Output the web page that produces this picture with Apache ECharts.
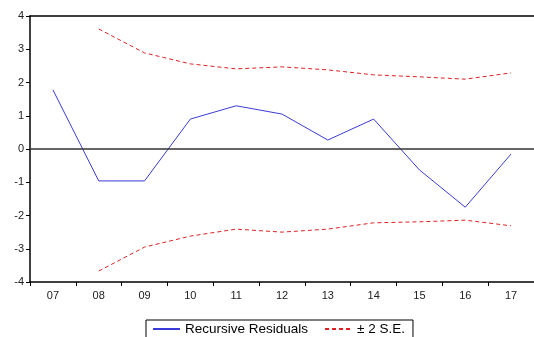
<!DOCTYPE html>
<html><head><meta charset="utf-8">
<script src="https://cdn.jsdelivr.net/npm/echarts@6/dist/echarts.min.js"></script>
<style>html,body{margin:0;padding:0;background:#fff}#c{width:534px;height:337px}</style>
</head><body><div id="c"></div>
<script>
var categories = ['07','08','09','10','11','12','13','14','15','16','17'];
var residuals = [1.78, -0.96, -0.96, 0.90, 1.30, 1.05, 0.27, 0.90, -0.63, -1.75, -0.15];
var upperSE = [null, 3.61, 2.89, 2.56, 2.41, 2.47, 2.38, 2.23, 2.17, 2.10, 2.29];
var lowerSE = [null, -3.67, -2.95, -2.62, -2.41, -2.50, -2.41, -2.22, -2.19, -2.14, -2.31];
var yTicks = [-4, 4, 1];

var chart = echarts.init(document.getElementById('c'));
var font = 'Liberation Sans, Arial, sans-serif';
chart.setOption({
  animation: false,
  grid: {left: 30, right: 0, top: 16, bottom: 55},
  legend: {
    left: 146, top: 320, padding: [2, 8, 6, 6],
    borderColor: '#000', borderWidth: 1, itemGap: 16,
    itemWidth: 27, itemHeight: 10,
    itemStyle: {opacity: 0},
    textStyle: {fontFamily: font, fontSize: 13.5, color: '#000'},
    data: [{name: 'Recursive Residuals'}, {name: '± 2 S.E.'}]
  },
  xAxis: [{
    type: 'category', data: categories, boundaryGap: true,
    axisLine: {onZero: false, lineStyle: {color: '#000', width: 1.5}},
    axisTick: {show: true, inside: false, length: 4, lineStyle: {color: '#000'}},
    axisLabel: {fontFamily: font, fontSize: 11, color: '#222', margin: 8},
    splitLine: {show: false}
  }, {
    type: 'category', data: categories, position: 'top',
    axisLine: {onZero: false, lineStyle: {color: '#000', width: 1.5}},
    axisTick: {show: false}, axisLabel: {show: false}
  }],
  yAxis: {
    type: 'value', min: yTicks[0], max: yTicks[1], interval: yTicks[2],
    axisLine: {show: true, onZero: false, lineStyle: {color: '#000', width: 1.5}},
    axisTick: {show: true, length: 4, lineStyle: {color: '#000'}},
    axisLabel: {fontFamily: font, fontSize: 11, color: '#222', margin: 6},
    splitLine: {show: false}
  },
  series: [{
    name: 'Recursive Residuals', type: 'line', data: residuals,
    symbol: 'none', lineStyle: {color: '#3a3ad8', width: 1}, itemStyle: {color: '#3a3ad8'},
    markLine: {silent: true, symbol: 'none', label: {show: false},
      lineStyle: {color: '#333', width: 1.5, type: 'solid'}, data: [{yAxis: 0}]}
  }, {
    name: '± 2 S.E.', type: 'line', data: upperSE,
    symbol: 'none', lineStyle: {color: '#e02020', width: 1, type: [4, 3]}, itemStyle: {color: '#e02020'}
  }, {
    name: '± 2 S.E.', type: 'line', data: lowerSE,
    symbol: 'none', lineStyle: {color: '#e02020', width: 1, type: [4, 3]}, itemStyle: {color: '#e02020'}
  }]
});
</script></body></html>
